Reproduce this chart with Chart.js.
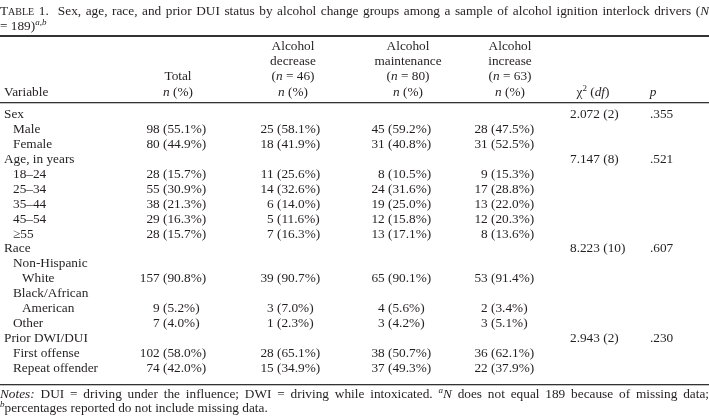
<!DOCTYPE html>
<html>
<head>
<meta charset="utf-8">
<script src="https://cdn.jsdelivr.net/npm/chart.js@4.4.1/dist/chart.umd.min.js"></script>
<style>
  html, body { margin: 0; padding: 0; background: #fff; }
  #wrap { position: relative; width: 709px; height: 418px; }
</style>
</head>
<body>
<div id="wrap"><canvas id="table-chart"></canvas></div>
<script>
// ---- table data ----
var rowLabels = ['Sex', 'Male', 'Female', 'Age, in years', '18–24', '25–34', '35–44', '45–54', '≥55',
  'Race', 'Non-Hispanic', 'White', 'Black/African', 'American', 'Other',
  'Prior DWI/DUI', 'First offense', 'Repeat offender'];
var rowLevel = [0, 1, 1, 0, 1, 1, 1, 1, 1, 0, 1, 2, 1, 2, 1, 0, 1, 1];

var totalN = [null, 98, 80, null, 28, 55, 38, 29, 28, null, null, 157, null, 9, 7, null, 102, 74];
var totalPct = [null, 55.1, 44.9, null, 15.7, 30.9, 21.3, 16.3, 15.7, null, null, 90.8, null, 5.2, 4.0, null, 58.0, 42.0];
var decreaseN = [null, 25, 18, null, 11, 14, 6, 5, 7, null, null, 39, null, 3, 1, null, 28, 15];
var decreasePct = [null, 58.1, 41.9, null, 25.6, 32.6, 14.0, 11.6, 16.3, null, null, 90.7, null, 7.0, 2.3, null, 65.1, 34.9];
var maintainN = [null, 45, 31, null, 8, 24, 19, 12, 13, null, null, 65, null, 4, 3, null, 38, 37];
var maintainPct = [null, 59.2, 40.8, null, 10.5, 31.6, 25.0, 15.8, 17.1, null, null, 90.1, null, 5.6, 4.2, null, 50.7, 49.3];
var increaseN = [null, 28, 31, null, 9, 17, 13, 12, 8, null, null, 53, null, 2, 3, null, 36, 22];
var increasePct = [null, 47.5, 52.5, null, 15.3, 28.8, 22.0, 20.3, 13.6, null, null, 91.4, null, 3.4, 5.1, null, 62.1, 37.9];

var chiSquare = [2.072, null, null, 7.147, null, null, null, null, null, 8.223, null, null, null, null, null, 2.943, null, null];
var chiDf = [2, null, null, 8, null, null, null, null, null, 10, null, null, null, null, null, 2, null, null];
var pValues = [0.355, null, null, 0.521, null, null, null, null, null, 0.607, null, null, null, null, null, 0.230, null, null];

var groupNames = ['decrease', 'maintenance', 'increase'];
var groupSizes = [46, 80, 63];

// ---- look ----
var SERIF = '"Liberation Serif", "Times New Roman", serif';
var INK = '#231f20';
var FS = 13.3;

function fontOf(r) {
  return (r.it ? 'italic ' : '') + (r.size || FS) + 'px ' + SERIF;
}

// draw a list of runs {t, it, sup, size}; stretch the spaces when a right edge is given
function drawRuns(ctx, runs, x, y, right) {
  var pieces = [];
  runs.forEach(function (r) {
    r.t.split(/( )/).forEach(function (s) { if (s) pieces.push({ t: s, r: r }); });
  });
  var natural = 0, spaces = 0;
  pieces.forEach(function (p) {
    ctx.font = fontOf(p.r);
    p.w = ctx.measureText(p.t).width;
    natural += p.w;
    if (p.t === ' ') spaces++;
  });
  var extra = (right && spaces) ? (right - x - natural) / spaces : 0;
  ctx.textAlign = 'left';
  pieces.forEach(function (p) {
    ctx.font = fontOf(p.r);
    ctx.fillText(p.t, x, y + (p.r.sup ? -4 : 0));
    x += p.w + (p.t === ' ' ? extra : 0);
  });
  return x;
}

function centerRuns(ctx, runs, cx, y) {
  var w = 0;
  runs.forEach(function (r) { ctx.font = fontOf(r); w += ctx.measureText(r.t).width; });
  drawRuns(ctx, runs, cx - w / 2, y);
}

// n (pct) cell, aligned on the opening parenthesis
function cell(ctx, n, pct, parenX, y) {
  if (n === null) return;
  ctx.font = fontOf({});
  ctx.textAlign = 'right';
  ctx.fillText(n + ' ', parenX, y);
  ctx.textAlign = 'left';
  ctx.fillText('(' + pct.toFixed(1) + '%)', parenX, y);
}

var colX = { label: 4, indent: 9, total: 178, totalParen: 163, groups: [293, 408, 510], groupParen: [277, 388, 491], chi: 570, chiHead: 593, p: 650, pHead: 653 };

var tablePlugin = {
  id: 'tableText',
  afterDraw: function (chart) {
    var ctx = chart.ctx;
    var ys = chart.scales.y;
    var W = chart.width;
    ctx.save();
    ctx.fillStyle = INK;
    ctx.textBaseline = 'middle';

    // title
    drawRuns(ctx, [
      { t: 'T' }, { t: 'ABLE', size: 10 }, { t: ' 1.  ' },
      { t: 'Sex, age, race, and prior DUI status by alcohol change groups among a sample of alcohol ignition interlock drivers (' },
      { t: 'N', it: true }
    ], 0, 12, W);
    drawRuns(ctx, [{ t: '= 189)' }, { t: 'a,b', it: true, sup: true, size: 9 }], 0, 27);

    // rules
    ctx.fillStyle = '#333';
    ctx.fillRect(0, 35, W, 2);
    ctx.fillRect(0, 102, W, 1.3);
    ctx.fillRect(0, 384, W, 1.3);
    ctx.fillStyle = INK;

    // column heads
    var hy = [47, 62, 77, 93];
    drawRuns(ctx, [{ t: 'Variable' }], colX.label, hy[3]);
    centerRuns(ctx, [{ t: 'Total' }], colX.total, hy[2]);
    centerRuns(ctx, [{ t: 'n', it: true }, { t: ' (%)' }], colX.total, hy[3]);
    groupNames.forEach(function (g, i) {
      var cx = colX.groups[i];
      centerRuns(ctx, [{ t: 'Alcohol' }], cx, hy[0]);
      centerRuns(ctx, [{ t: g }], cx, hy[1]);
      centerRuns(ctx, [{ t: '(' }, { t: 'n', it: true }, { t: ' = ' + groupSizes[i] + ')' }], cx, hy[2]);
      centerRuns(ctx, [{ t: 'n', it: true }, { t: ' (%)' }], cx, hy[3]);
    });
    centerRuns(ctx, [{ t: 'χ' }, { t: '2', sup: true, size: 9 }, { t: ' (' }, { t: 'df', it: true }, { t: ')' }], colX.chiHead, hy[3]);
    centerRuns(ctx, [{ t: 'p', it: true }], colX.pHead, hy[3]);

    // body
    rowLabels.forEach(function (lab, i) {
      var y = ys.getPixelForValue(i);
      ctx.font = fontOf({});
      ctx.textAlign = 'left';
      ctx.fillText(lab, colX.label + rowLevel[i] * colX.indent, y);
      cell(ctx, totalN[i], totalPct[i], colX.totalParen, y);
      cell(ctx, decreaseN[i], decreasePct[i], colX.groupParen[0], y);
      cell(ctx, maintainN[i], maintainPct[i], colX.groupParen[1], y);
      cell(ctx, increaseN[i], increasePct[i], colX.groupParen[2], y);
      if (chiSquare[i] !== null) {
        ctx.font = fontOf({});
        ctx.textAlign = 'left';
        ctx.fillText(chiSquare[i].toFixed(3) + ' (' + chiDf[i] + ')', colX.chi, y);
        ctx.fillText(pValues[i].toFixed(3).replace(/^0/, ''), colX.p, y);
      }
    });

    // notes
    drawRuns(ctx, [
      { t: 'Notes:', it: true },
      { t: ' DUI = driving under the influence; DWI = driving while intoxicated. ' },
      { t: 'a', it: true, sup: true, size: 9 }, { t: 'N', it: true },
      { t: ' does not equal 189 because of missing data;' }
    ], 0, 395, W);
    drawRuns(ctx, [
      { t: 'b', it: true, sup: true, size: 9 },
      { t: 'percentages reported do not include missing data.' }
    ], 0, 409);
    ctx.restore();
  }
};

new Chart(document.getElementById('table-chart').getContext('2d'), {
  type: 'scatter',
  data: {
    datasets: [{
      label: 'rows',
      data: rowLabels.map(function (l, i) { return { x: 0, y: i }; }),
      pointRadius: 0,
      pointHoverRadius: 0
    }]
  },
  options: {
    responsive: true,
    maintainAspectRatio: false,
    animation: false,
    events: [],
    layout: { padding: { top: 107.5, bottom: 42.5, left: 0, right: 0 } },
    plugins: { legend: { display: false }, tooltip: { enabled: false } },
    scales: {
      x: { type: 'linear', min: 0, max: 709, display: false },
      y: { type: 'linear', min: -0.5, max: 17.5, reverse: true, display: false }
    }
  },
  plugins: [tablePlugin]
});
</script>
</body>
</html>
